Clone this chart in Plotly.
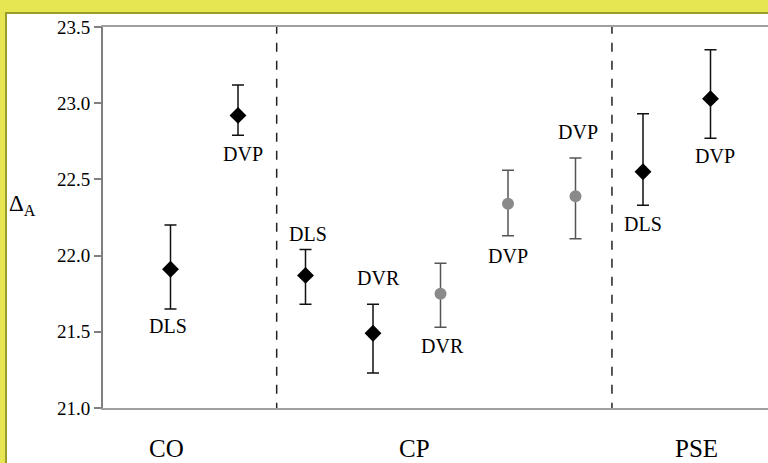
import plotly.graph_objects as go

# ---- data ----
point_labels = ["DLS", "DVP", "DLS", "DVR", "DVR", "DVP", "DVP", "DLS", "DVP"]
means = [21.91, 22.92, 21.87, 21.49, 21.75, 22.34, 22.39, 22.55, 23.03]
upper = [22.20, 23.12, 22.04, 21.68, 21.95, 22.56, 22.64, 22.93, 23.35]
lower = [21.65, 22.79, 21.68, 21.23, 21.53, 22.13, 22.11, 22.33, 22.77]
series = ["black", "black", "black", "black", "grey", "grey", "grey", "black", "black"]
group_labels = ["CO", "CP", "PSE"]
y_ticks = [21.0, 21.5, 22.0, 22.5, 23.0, 23.5]

# ---- style / layout ----
label_side = ["below", "below", "above", "above", "below", "below", "above", "below", "below"]
label_gap = [17, 19, 16, 26, 19, 20, 26, 19, 18]
label_dx = [-3, 5, 2, 5, 2, 0, 2, 0, 4]
group_label_x = [0.948, 4.62, 8.79]
divider_x = [2.573, 7.54]
FONT = "Liberation Serif, Times New Roman, Times, serif"

W, H = 768, 463
L, R, T, B = 103, 0, 27, 55
XMAX = (W - L) / 67.5

positions = list(range(1, len(means) + 1))

fig = go.Figure()

styles = {
    "black": dict(symbol="diamond", size=13, color="black", bar="#111111"),
    "grey": dict(symbol="circle", size=12, color="#8a8a8a", bar="#555555"),
}
for key, st in styles.items():
    idx = [i for i, s in enumerate(series) if s == key]
    fig.add_trace(go.Scatter(
        x=[positions[i] for i in idx],
        y=[means[i] for i in idx],
        mode="markers",
        marker=dict(symbol=st["symbol"], size=st["size"], color=st["color"],
                    line=dict(width=0)),
        error_y=dict(type="data", symmetric=False,
                     array=[upper[i] - means[i] for i in idx],
                     arrayminus=[means[i] - lower[i] for i in idx],
                     color=st["bar"], thickness=1.5, width=6),
        showlegend=False,
        hoverinfo="skip",
    ))

# white panel with olive edge over yellow paper
px = lambda p: (p - L) / (W - L)
py = lambda p: (H - B - p) / (H - T - B)
fig.add_shape(type="rect", xref="paper", yref="paper",
              x0=px(6), x1=1.1, y0=py(H + 40), y1=py(13),
              fillcolor="white", line=dict(color="#9c9c2a", width=2), layer="below")

for dx in divider_x:
    fig.add_shape(type="line", xref="x", yref="y", x0=dx, x1=dx, y0=20.975, y1=23.5,
                  line=dict(color="#222222", width=1.5, dash="dash"))

for i, lab in enumerate(point_labels):
    if label_side[i] == "below":
        y, ys = lower[i], -label_gap[i]
    else:
        y, ys = upper[i], label_gap[i]
    fig.add_annotation(x=positions[i], y=y, text=lab, showarrow=False,
                       xanchor="center", yanchor="middle", yshift=ys, xshift=label_dx[i],
                       font=dict(family=FONT, size=20, color="black"))

for gx, gl in zip(group_label_x, group_labels):
    fig.add_annotation(x=gx, y=py(448), xref="x", yref="paper", text=gl,
                       showarrow=False, xanchor="center", yanchor="middle",
                       font=dict(family=FONT, size=25, color="black"))

fig.add_annotation(x=px(7), y=22.33, xref="paper", yref="y",
                   text="Δ<sub>A</sub>", showarrow=False, xanchor="left", yanchor="middle",
                   font=dict(family=FONT, size=23, color="black"))

fig.update_layout(
    width=W, height=H,
    margin=dict(l=L, r=R, t=T, b=B, pad=0),
    paper_bgcolor="#e6e652",
    plot_bgcolor="white",
    font=dict(family=FONT),
    xaxis=dict(range=[0, XMAX], showticklabels=False, ticks="", showgrid=False,
               zeroline=False, showline=True, linecolor="#a0a0a0", linewidth=2,
               mirror=True),
    yaxis=dict(range=[21.0, 23.5], tickvals=y_ticks, tickformat=".1f",
               ticks="outside", ticklen=7, tickcolor="#808080", tickwidth=1.5,
               showgrid=False, zeroline=False, showline=True, linecolor="#808080",
               linewidth=2, tickfont=dict(family=FONT, size=19, color="black")),
)

fig.write_html("out.html", config={"displayModeBar": False},
               post_script="document.body.style.margin='0';document.body.style.overflow='hidden';")
